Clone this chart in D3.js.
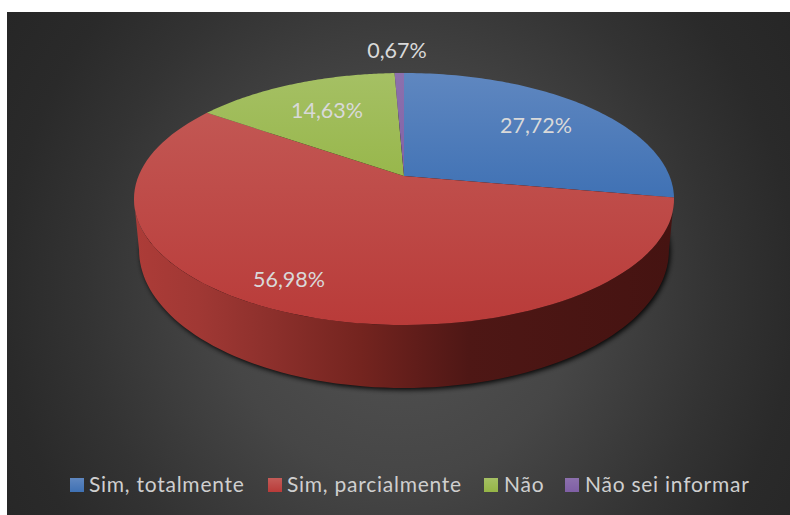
<!DOCTYPE html>
<html><head><meta charset="utf-8">
<script src="https://cdnjs.cloudflare.com/ajax/libs/d3/7.8.5/d3.min.js"></script>
<style>html,body{margin:0;padding:0;background:#fff}svg{display:block}text{font-family:Lato,"Open Sans",sans-serif}</style>
</head><body><div id="c"></div>
<script>
const categories = ["Sim, totalmente", "Sim, parcialmente", "Não", "Não sei informar"];
const values = [27.72, 56.98, 14.63, 0.67];
const valueLabels = ["27,72%", "56,98%", "14,63%", "0,67%"];
const sliceColors = [["#5f87c0","#3f71b4"],["#c45c58","#b93b39"],["#a5c064","#95b546"],["#8c70ad","#7f5fa5"]];

const W=790,H=515,k=0.1825;
const svg=d3.select("#c").append("svg").attr("width",W).attr("height",H);
const defs=svg.append("defs");
// perspective projection of a tilted disc
const proj=(cx,cy,A,B)=>t=>{const u=Math.sin(t),v=-Math.cos(t),d=1-k*v;return [cx+A*u/d,cy+B*v/d];};
const topDisc=proj(404,176,265.5,121.8), bottomDisc=proj(404,224.8,260.5,133.4);
const arcPts=(f,a,b)=>{const sc=d3.scaleLinear().domain([0,1]).range([a,b]);return d3.range(0,1.0001,1/90).map(i=>f(sc(i)));};
const line=d3.line();
const slices=d3.pie().sort(null).value(d=>d)(values);

// background
const bg=defs.append("radialGradient").attr("id","bg").attr("gradientUnits","userSpaceOnUse")
 .attr("cx",0).attr("cy",0).attr("r",1.3).attr("gradientTransform","translate(400,290) scale(395,420)");
[[0,"#535353"],[0.45,"#464646"],[0.8,"#333333"],[1,"#2a2a2a"],[1.3,"#242424"]].forEach(s=>bg.append("stop").attr("offset",s[0]/1.3).attr("stop-color",s[1]));
svg.append("rect").attr("x",7).attr("y",12).attr("width",W-7).attr("height",H-12).attr("fill","url(#bg)");

// shadow
const f=defs.append("filter").attr("id","blur").attr("x","-10%").attr("y","-10%").attr("width","120%").attr("height","120%");
f.append("feGaussianBlur").attr("stdDeviation",2.5);
svg.append("path").attr("d",line(arcPts(bottomDisc,0,2*Math.PI))+"Z").attr("transform","translate(1.5,2)")
 .attr("fill","#000").attr("opacity",0.9).attr("filter","url(#blur)");

// wall
const wg=defs.append("linearGradient").attr("id","wall").attr("gradientUnits","userSpaceOnUse").attr("x1",134).attr("x2",674).attr("y1",0).attr("y2",0);
[[0,"#ad3c38"],[0.12,"#a03834"],[0.25,"#8d302c"],[0.42,"#74241f"],[0.52,"#611d1a"],[0.62,"#4e1715"],[1,"#451311"]].forEach(s=>wg.append("stop").attr("offset",s[0]).attr("stop-color",s[1]));
const wallA=Math.acos(-k), wallB=2*Math.PI-Math.acos(-k);
const wall=arcPts(topDisc,wallA,wallB).concat(arcPts(bottomDisc,wallA,wallB).reverse());
svg.append("path").attr("d",line(wall)+"Z").attr("fill","url(#wall)");

// top surface
slices.forEach((s,i)=>{
  const g=defs.append("linearGradient").attr("id","s"+i).attr("gradientUnits","userSpaceOnUse").attr("x1",0).attr("x2",0).attr("y1",73).attr("y2",i===1?325:200);
  g.append("stop").attr("offset",0).attr("stop-color",sliceColors[i][0]);
  g.append("stop").attr("offset",1).attr("stop-color",sliceColors[i][1]);
  svg.append("path").attr("d",line([[404,176]].concat(arcPts(topDisc,s.startAngle,s.endAngle)))+"Z").attr("fill","url(#s"+i+")");
});

// value labels
const labelPos=[[536,133],[289,287],[327,118],[397,58]];
svg.selectAll("text.v").data(valueLabels).join("text").attr("class","v")
 .attr("x",(d,i)=>labelPos[i][0]).attr("y",(d,i)=>labelPos[i][1]).attr("text-anchor","middle")
 .attr("font-size",21.5).attr("fill","#d9d9d9").text(d=>d);

// legend
const swatchX=[70,268,484,565], textX=[89,287,504,585];
slices.forEach((s,i)=>{
  const g=defs.append("linearGradient").attr("id","l"+i).attr("x1",0).attr("x2",0).attr("y1",0).attr("y2",1);
  g.append("stop").attr("offset",0).attr("stop-color",sliceColors[i][0]);
  g.append("stop").attr("offset",1).attr("stop-color",sliceColors[i][1]);
});
svg.selectAll("rect.k").data(categories).join("rect").attr("class","k")
 .attr("x",(d,i)=>swatchX[i]).attr("y",478).attr("width",14).attr("height",14).attr("fill",(d,i)=>`url(#l${i})`);
svg.selectAll("text.k").data(categories).join("text").attr("class","k")
 .attr("x",(d,i)=>textX[i]).attr("y",492).attr("font-size",21).attr("letter-spacing",0.75).attr("fill","#cfcfcf").text(d=>d);
</script></body></html>
